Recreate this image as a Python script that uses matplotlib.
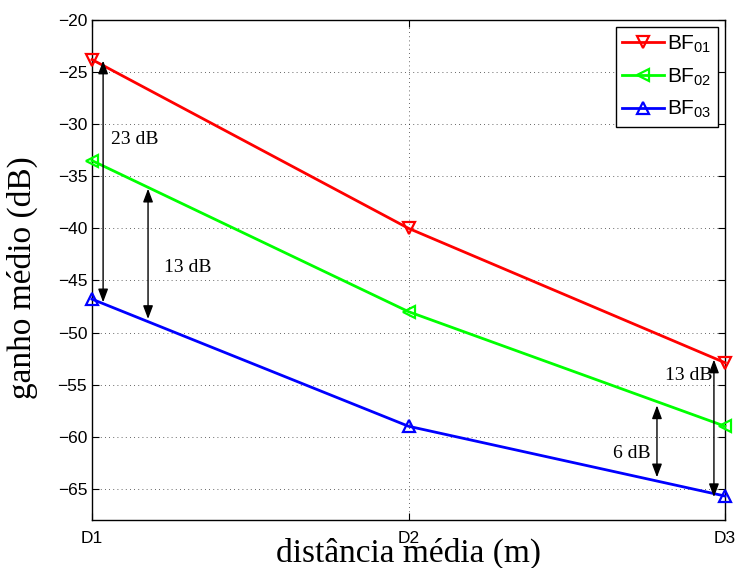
import matplotlib
matplotlib.use("Agg")
import matplotlib.pyplot as plt

x = [1, 2, 3]
xticklabels = ["D1", "D2", "D3"]
bf01 = [-23.8, -40.0, -52.9]
bf02 = [-33.5, -48.0, -59.0]
bf03 = [-46.8, -59.0, -65.7]
labels = ["BF$_{01}$", "BF$_{02}$", "BF$_{03}$"]
yticks = [-65, -60, -55, -50, -45, -40, -35, -30, -25, -20]

# annotations: (x, y_top, y_bottom, label, text_x, text_y, ha)
arrows = [
    (1.035, -23.9, -47.1, "23 dB", 1.06, -31.5, "left"),
    (1.177, -36.2, -48.7, "13 dB", 1.227, -43.8, "left"),
    (2.785, -57.0, -63.9, "6 dB", 2.765, -61.6, "right"),
    (2.965, -52.6, -65.8, "13 dB", 2.96, -54.1, "right"),
]

plt.rcParams['font.family'] = ['Liberation Sans', 'DejaVu Sans']
plt.rcParams['mathtext.fontset'] = 'custom'
plt.rcParams['mathtext.rm'] = 'Liberation Sans'
plt.rcParams['mathtext.it'] = 'Liberation Sans'
fig = plt.figure(figsize=(7.38, 5.68), dpi=100)
ax = fig.add_axes([0.1247, 0.0845, 0.8577, 0.8803])

ax.plot(x, bf01, color=(1, 0, 0), lw=2, marker='v', ms=9, mfc='none', mew=1.6, label=labels[0], clip_on=False, zorder=3)
ax.plot(x, bf02, color=(0, 1, 0), lw=2, marker='<', ms=9, mfc='none', mew=1.6, label=labels[1], clip_on=False, zorder=3)
ax.plot(x, bf03, color=(0, 0, 1), lw=2, marker='^', ms=9, mfc='none', mew=1.6, label=labels[2], clip_on=False, zorder=3)

for ax_x, yt, yb, txt, tx, ty, ha in arrows:
    ax.annotate("", xy=(ax_x, yt), xytext=(ax_x, yb),
                arrowprops=dict(arrowstyle="<|-|>,head_length=0.8,head_width=0.3",
                                color='black', lw=1.0, shrinkA=0, shrinkB=0), zorder=4)
    ax.text(tx, ty, txt, ha=ha, va='center', fontsize=14, family='Liberation Serif')

ax.set_xlim(1, 3)
ax.set_ylim(-68, -20)
ax.set_xticks(x)
ax.set_xticklabels(xticklabels)
ax.set_yticks(yticks)
ax.set_yticklabels([f"\u2212{abs(v)}" for v in yticks])
ax.tick_params(direction='in', top=True, right=True, labelsize=12.5, length=5, width=0.8)
ax.tick_params(axis='x', pad=8)
ax.grid(True, linestyle=(0, (1, 4)), color='black', lw=0.6, alpha=0.8)
for s in ax.spines.values():
    s.set_linewidth(1.0)

lab_font = dict(family='Liberation Serif', fontsize=24)
ax.set_xlabel("distância média (m)", labelpad=-6, **lab_font)
ax.set_ylabel("ganho médio (dB)", labelpad=0, **lab_font)
ax.yaxis.set_label_coords(-0.085, 0.485)

leg = ax.legend(loc='upper right', fontsize=15, frameon=True, fancybox=False,
                edgecolor='black', framealpha=1, borderaxespad=0.35,
                handlelength=2.0, labelspacing=0.55, borderpad=0.3, handletextpad=0.15)
leg.get_frame().set_linewidth(1.0)

fig.savefig("out.png", dpi=100)
